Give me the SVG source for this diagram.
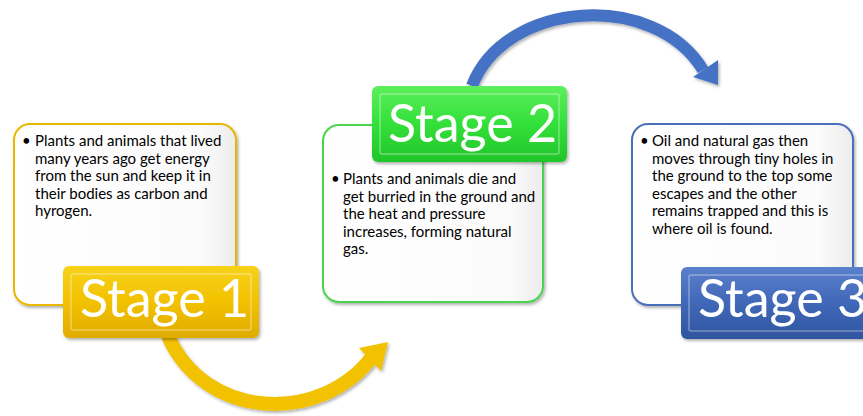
<svg xmlns="http://www.w3.org/2000/svg" width="863" height="416" viewBox="0 0 863 416">
<defs>
<linearGradient id="boxfill" x1="0" y1="0" x2="1" y2="0">
<stop offset="0" stop-color="#ffffff"/><stop offset="0.85" stop-color="#fbfbfb"/><stop offset="1" stop-color="#ececec"/>
</linearGradient>
<linearGradient id="gy" x1="0" y1="0" x2="0" y2="1">
<stop offset="0" stop-color="#f7d21a"/><stop offset="0.5" stop-color="#f2c100"/><stop offset="1" stop-color="#e0ac00"/>
</linearGradient>
<linearGradient id="gg" x1="0" y1="0" x2="0" y2="1">
<stop offset="0" stop-color="#5cef5c"/><stop offset="0.5" stop-color="#33e03a"/><stop offset="1" stop-color="#22c52a"/>
</linearGradient>
<linearGradient id="gb" x1="0" y1="0" x2="0" y2="1">
<stop offset="0" stop-color="#5b80cc"/><stop offset="0.5" stop-color="#4068b8"/><stop offset="1" stop-color="#2f559f"/>
</linearGradient>
<filter id="sh" x="-10%" y="-10%" width="130%" height="130%">
<feDropShadow dx="1.5" dy="2" stdDeviation="1.5" flood-color="#000" flood-opacity="0.3"/>
</filter>
</defs>
<style>
.box{fill:url(#boxfill);stroke-width:2}
.txt{font-family:Lato,"Open Sans",sans-serif;font-size:15px;fill:#000}
.lbl{font-family:Lato,"Open Sans",sans-serif;font-size:52px;fill:#fff}
.bevel{fill:none;stroke:#fff;stroke-opacity:0.35;stroke-width:1.5}
</style>
<g id="connectors">
<g id="arrow-1-2" filter="url(#sh)">
<path d="M168 336 C205 420,320 425,372 357" fill="none" stroke="#f2c100" stroke-width="14"/>
<polygon points="388,342 359,348 381,371" fill="#f2c100"/>
</g>
<g id="arrow-2-3" filter="url(#sh)">
<path d="M472 86 C505 0,655 -10,703 70" fill="none" stroke="#4472c4" stroke-width="12"/>
<polygon points="718,85 693,77 718,60" fill="#4472c4"/>
</g>
</g>
<g id="stage1">
<rect class="box" x="14" y="124" width="222" height="181" rx="16" stroke="#e8b800" filter="url(#sh)"/>
<text class="txt" x="22" y="146">•</text>
<text class="txt" x="35" y="146">Plants and animals that lived</text>
<text class="txt" x="35" y="163.5">many years ago get energy</text>
<text class="txt" x="35" y="181">from the sun and keep it in</text>
<text class="txt" x="35" y="198.5">their bodies as carbon and</text>
<text class="txt" x="35" y="216">hyrogen.</text>
<rect x="63" y="266" width="196" height="72" rx="6" fill="url(#gy)" filter="url(#sh)"/>
<rect class="bevel" x="71" y="274" width="180" height="56" rx="2"/>
<text class="lbl" x="80" y="317">Stage 1</text>
</g>
<g id="stage2">
<rect class="box" x="323" y="125" width="220" height="177" rx="16" stroke="#4cd34c" filter="url(#sh)"/>
<text class="txt" x="331" y="184">•</text>
<text class="txt" x="343" y="184">Plants and animals die and</text>
<text class="txt" x="343" y="201.5">get burried in the ground and</text>
<text class="txt" x="343" y="219">the heat and pressure</text>
<text class="txt" x="343" y="236.5">increases, forming natural</text>
<text class="txt" x="343" y="254">gas.</text>
<rect x="372" y="86" width="195" height="76" rx="6" fill="url(#gg)" filter="url(#sh)"/>
<rect class="bevel" x="380" y="94" width="179" height="60" rx="2"/>
<text class="lbl" x="388" y="142">Stage 2</text>
</g>
<g id="stage3">
<rect class="box" x="632" y="124" width="221" height="181" rx="16" stroke="#4a6fb8" filter="url(#sh)"/>
<text class="txt" x="640" y="146">•</text>
<text class="txt" x="652" y="146">Oil and natural gas then</text>
<text class="txt" x="652" y="163.5">moves through tiny holes in</text>
<text class="txt" x="652" y="181">the ground to the top some</text>
<text class="txt" x="652" y="198.5">escapes and the other</text>
<text class="txt" x="652" y="216">remains trapped and this is</text>
<text class="txt" x="652" y="233.5">where oil is found.</text>
<rect x="681" y="267" width="196" height="72" rx="6" fill="url(#gb)" filter="url(#sh)"/>
<rect class="bevel" x="689" y="275" width="180" height="56" rx="2"/>
<text class="lbl" x="698" y="317">Stage 3</text>
</g>
</svg>
